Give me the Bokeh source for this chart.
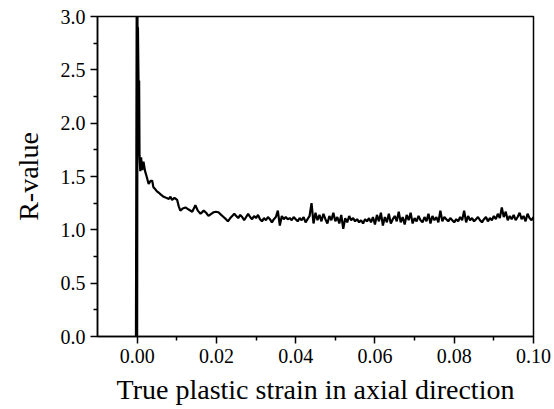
from bokeh.plotting import figure
from bokeh.models import Range1d, FixedTicker, CustomJSTickFormatter, ColumnDataSource
from bokeh.embed import file_html
from bokeh.resources import INLINE

# early part of the curve (spike at zero strain and decay)
strain_early = [0.0, 0.0001, -0.0003, -0.0001, 0.0003, 0.0002, 0.0004, 0.0005, 0.0006, 0.0008,
                0.0010, 0.0013, 0.0016, 0.0020, 0.0024, 0.0029, 0.0034, 0.0038, 0.0041, 0.0046,
                0.0050, 0.0054, 0.0060, 0.0067, 0.0073, 0.0080, 0.0084, 0.0088, 0.0094, 0.0101,
                0.0105, 0.0109, 0.0115, 0.0122, 0.0130, 0.0139, 0.0147, 0.0153, 0.0160, 0.0168,
                0.0174, 0.0180, 0.0187, 0.0193, 0.0199, 0.0205, 0.0212, 0.0218, 0.0224, 0.0229,
                0.0235, 0.0240, 0.0245]
r_early = [0.0, 3.3, 0.0, 3.3, 2.5, 2.9, 2.2, 2.4, 1.7, 1.55,
           1.68, 1.56, 1.64, 1.55, 1.50, 1.43, 1.46, 1.46, 1.40, 1.38,
           1.36, 1.35, 1.33, 1.31, 1.30, 1.29, 1.31, 1.28, 1.30, 1.28,
           1.22, 1.18, 1.20, 1.21, 1.19, 1.17, 1.23, 1.18, 1.15, 1.18,
           1.16, 1.13, 1.15, 1.165, 1.17, 1.165, 1.14, 1.12, 1.10, 1.08,
           1.11, 1.13, 1.15]

# steady part of the curve
strain_late = [0.0250, 0.0255, 0.0260, 0.0265, 0.0270, 0.0275, 0.0280, 0.0285, 0.0290, 0.0295,
               0.0300, 0.0305, 0.0310, 0.0315, 0.0320, 0.0325, 0.0330, 0.0335, 0.0340, 0.0345,
               0.0350, 0.0355, 0.0360, 0.0365, 0.0370, 0.0375, 0.0380, 0.0385, 0.0390, 0.0395,
               0.0400, 0.0405, 0.0410, 0.0415, 0.0420, 0.0425, 0.0430, 0.0435, 0.0440, 0.0445,
               0.0450, 0.0455, 0.0460, 0.0465, 0.0470, 0.0475, 0.0480, 0.0485, 0.0490, 0.0495,
               0.0500, 0.0505, 0.0510, 0.0515, 0.0520, 0.0525, 0.0530, 0.0535, 0.0540, 0.0545,
               0.0550, 0.0555, 0.0560, 0.0565, 0.0570, 0.0575, 0.0580, 0.0585, 0.0590, 0.0595,
               0.0600, 0.0605, 0.0610, 0.0615, 0.0620, 0.0625, 0.0630, 0.0635, 0.0640, 0.0645,
               0.0650, 0.0655, 0.0660, 0.0665, 0.0670, 0.0675, 0.0680, 0.0685, 0.0690, 0.0695,
               0.0700, 0.0705, 0.0710, 0.0715, 0.0720, 0.0725, 0.0730, 0.0735, 0.0740, 0.0745,
               0.0750, 0.0755, 0.0760, 0.0765, 0.0770, 0.0775, 0.0780, 0.0785, 0.0790, 0.0795,
               0.0800, 0.0805, 0.0810, 0.0815, 0.0820, 0.0825, 0.0830, 0.0835, 0.0840, 0.0845,
               0.0850, 0.0855, 0.0860, 0.0865, 0.0870, 0.0875, 0.0880, 0.0885, 0.0890, 0.0895,
               0.0900, 0.0905, 0.0910, 0.0915, 0.0920, 0.0925, 0.0930, 0.0935, 0.0940, 0.0945,
               0.0950, 0.0955, 0.0960, 0.0965, 0.0970, 0.0975, 0.0980, 0.0985, 0.0990, 0.0995,
               0.1000]
r_late = [1.13, 1.11, 1.14, 1.12, 1.09, 1.12, 1.15, 1.12, 1.10, 1.13,
          1.11, 1.14, 1.10, 1.08, 1.11, 1.09, 1.12, 1.10, 1.07, 1.10,
          1.12, 1.18, 1.04, 1.13, 1.10, 1.12, 1.10, 1.11, 1.09, 1.12,
          1.10, 1.08, 1.11, 1.09, 1.12, 1.07, 1.10, 1.13, 1.25, 1.06,
          1.16, 1.09, 1.14, 1.08, 1.15, 1.10, 1.06, 1.13, 1.09, 1.16,
          1.08, 1.12, 1.06, 1.14, 1.01, 1.11, 1.07, 1.13, 1.09, 1.11,
          1.08, 1.10, 1.07, 1.09, 1.06, 1.10, 1.08, 1.11, 1.07, 1.12,
          1.05, 1.14, 1.08, 1.16, 1.04, 1.12, 1.07, 1.15, 1.06, 1.10,
          1.13, 1.08, 1.17, 1.07, 1.12, 1.05, 1.14, 1.09, 1.16, 1.06,
          1.11, 1.08, 1.13, 1.09, 1.07, 1.12, 1.08, 1.15, 1.06, 1.13,
          1.09, 1.12, 1.07, 1.18, 1.08, 1.12, 1.10, 1.08, 1.11, 1.09,
          1.07, 1.10, 1.08, 1.12, 1.09, 1.18, 1.07, 1.13, 1.09, 1.11,
          1.08, 1.10, 1.12, 1.09, 1.07, 1.10, 1.12, 1.08, 1.11, 1.09,
          1.13, 1.10, 1.15, 1.11, 1.21, 1.12, 1.17, 1.09, 1.13, 1.10,
          1.14, 1.09, 1.12, 1.16, 1.10, 1.13, 1.08, 1.15, 1.11, 1.09,
          1.12]

x_major = [0.0, 0.02, 0.04, 0.06, 0.08, 0.10]
x_minor = [0.01, 0.03, 0.05, 0.07, 0.09]
y_major = [0.0, 0.5, 1.0, 1.5, 2.0, 2.5, 3.0]
y_minor = [0.25, 0.75, 1.25, 1.75, 2.25, 2.75]

x_label = "True plastic strain in axial direction"
y_label = "R-value"

src = ColumnDataSource(data=dict(x=strain_early + strain_late, y=r_early + r_late))

p = figure(width=554, height=409, output_backend="svg", toolbar_location=None,
           x_range=Range1d(-0.01, 0.10), y_range=Range1d(0.0, 3.0),
           min_border_left=97, min_border_right=21, min_border_top=16, min_border_bottom=73)

p.line("x", "y", source=src, line_color="black", line_width=2.2)

p.xgrid.visible = False
p.ygrid.visible = False
p.outline_line_color = "black"
p.outline_line_width = 1.5
p.background_fill_color = "white"
p.border_fill_color = "white"

p.xaxis.ticker = FixedTicker(ticks=x_major, minor_ticks=x_minor)
p.yaxis.ticker = FixedTicker(ticks=y_major, minor_ticks=y_minor)
p.xaxis.formatter = CustomJSTickFormatter(code="return tick.toFixed(2);")
p.yaxis.formatter = CustomJSTickFormatter(code="return tick.toFixed(1);")

for ax in (p.xaxis[0], p.yaxis[0]):
    ax.axis_line_color = "black"
    ax.axis_line_width = 1.5
    ax.major_tick_line_color = "black"
    ax.major_tick_line_width = 1.5
    ax.minor_tick_line_color = "black"
    ax.minor_tick_line_width = 1.5
    ax.major_tick_in = 0
    ax.major_tick_out = 7
    ax.minor_tick_in = 0
    ax.minor_tick_out = 4
    ax.major_label_text_font = "Liberation Serif"
    ax.major_label_text_font_size = "20px"
    ax.major_label_text_color = "black"
    ax.axis_label_text_font = "Liberation Serif"
    ax.axis_label_text_font_size = "28px"
    ax.axis_label_text_font_style = "normal"
    ax.axis_label_text_color = "black"

p.xaxis.axis_label = x_label
p.yaxis.axis_label = y_label
p.xaxis.major_label_standoff = 5
p.yaxis.major_label_standoff = 5
p.xaxis.axis_label_standoff = 8
p.yaxis.axis_label_standoff = 14

open("out.html", "w").write(file_html(p, INLINE))
